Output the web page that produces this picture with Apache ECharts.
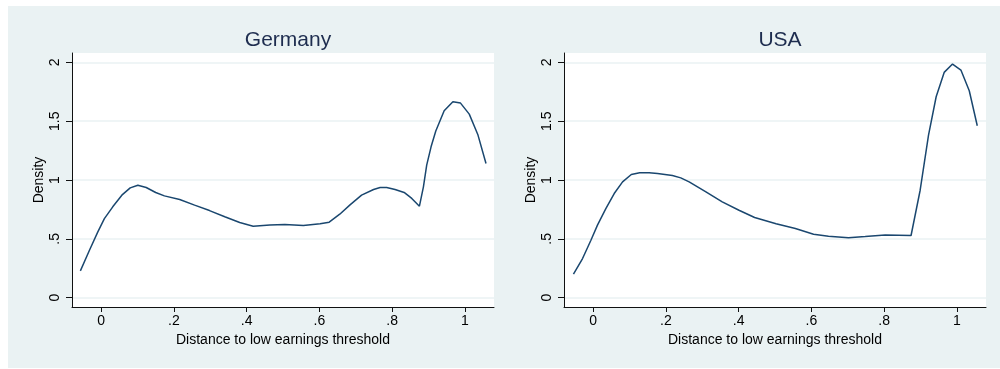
<!DOCTYPE html>
<html>
<head>
<meta charset="utf-8">
<script src="https://cdn.jsdelivr.net/npm/echarts@6/dist/echarts.min.js"></script>
<style>
html,body{margin:0;padding:0;background:#fff;}
#chart{width:1000px;height:369px;}
</style>
</head>
<body>
<div id="chart"></div>
<script>
// Panel titles
var panelTitles = ['Germany', 'USA'];
var xAxisTitle = 'Distance to low earnings threshold';
var yAxisTitle = 'Density';

// Tick values and labels
var xTickValues = [0, 0.2, 0.4, 0.6, 0.8, 1];
var xTickLabels = ['0', '.2', '.4', '.6', '.8', '1'];
var yTickValues = [0, 0.5, 1, 1.5, 2];
var yTickLabels = ['0', '.5', '1', '1.5', '2'];

// Germany kernel density (x, density)
var germanyX = [-0.057,-0.032,-0.009,0.009,0.032,0.057,0.080,0.101,0.124,0.150,0.174,0.216,0.257,0.298,0.340,0.381,0.418,0.464,0.505,0.556,0.602,0.627,0.656,0.685,0.716,0.749,0.767,0.785,0.808,0.833,0.854,0.875,0.886,0.895,0.907,0.920,0.943,0.967,0.988,1.012,1.036,1.058];
var germanyY = [0.227,0.403,0.559,0.672,0.772,0.871,0.933,0.956,0.936,0.894,0.865,0.834,0.786,0.740,0.687,0.638,0.607,0.618,0.621,0.613,0.627,0.641,0.709,0.791,0.871,0.919,0.936,0.936,0.919,0.894,0.843,0.777,0.942,1.126,1.282,1.416,1.589,1.665,1.654,1.560,1.382,1.140];

// USA kernel density (x, density)
var usaX = [-0.054,-0.029,-0.006,0.012,0.035,0.058,0.081,0.105,0.128,0.154,0.177,0.218,0.241,0.264,0.309,0.355,0.401,0.444,0.503,0.556,0.606,0.647,0.702,0.748,0.803,0.874,0.899,0.922,0.943,0.965,0.988,1.011,1.034,1.056];
var usaY = [0.199,0.332,0.488,0.616,0.757,0.885,0.984,1.047,1.061,1.061,1.055,1.038,1.018,0.984,0.902,0.814,0.743,0.681,0.628,0.587,0.539,0.522,0.508,0.519,0.533,0.528,0.913,1.382,1.708,1.915,1.986,1.935,1.759,1.461];

function pairs(xs, ys){ return xs.map(function(x,i){ return [x, ys[i]]; }); }

var grids = [
  {left:72, top:53, width:422, height:254},
  {left:564, top:53, width:422, height:254}
];

var fontFam = '"Liberation Sans", Arial, sans-serif';
var lineColor = '#1a476f';
var axisColor = '#111';
var gridColor = '#eaf2f3';

var xAxes = [], yAxes = [], series = [], titles = [];
grids.forEach(function(g, i){
  g.show = true; g.backgroundColor = '#ffffff'; g.borderWidth = 0; g.containLabel = false;
  xAxes.push({
    gridIndex: i, type: 'value', min: -0.08, max: 1.08,
    name: xAxisTitle, nameLocation: 'middle', nameGap: 21,
    nameTextStyle: {color: '#000', fontSize: 14, fontFamily: fontFam},
    axisLine: {show: true, onZero: false, lineStyle: {color: axisColor, width: 1}},
    axisTick: {show: true, length: 5, customValues: xTickValues, lineStyle: {color: axisColor}},
    axisLabel: {customValues: xTickValues, color: '#000', fontSize: 14, fontFamily: fontFam, margin: 7,
      formatter: function(v){ var k = xTickValues.indexOf(Math.round(v*10)/10); return k >= 0 ? xTickLabels[k] : ''; }},
    splitLine: {show: false}
  });
  yAxes.push({
    gridIndex: i, type: 'value', min: -0.08, max: 2.08,
    name: yAxisTitle, nameLocation: 'middle', nameGap: 26, nameRotate: 90,
    nameTextStyle: {color: '#000', fontSize: 14, fontFamily: fontFam},
    axisLine: {show: true, onZero: false, lineStyle: {color: axisColor, width: 1}},
    axisTick: {show: true, length: 6, customValues: yTickValues, lineStyle: {color: axisColor}},
    axisLabel: {customValues: yTickValues, rotate: 90, color: '#000', fontSize: 14, fontFamily: fontFam, margin: 10,
      formatter: function(v){ var k = yTickValues.indexOf(Math.round(v*10)/10); return k >= 0 ? yTickLabels[k] : ''; }},
    splitLine: {show: true, lineStyle: {color: gridColor, width: 1.5}}
  });
  titles.push({
    text: panelTitles[i], left: g.left + g.width/2, top: 25, textAlign: 'center',
    textStyle: {color: '#1e2d4f', fontSize: 21, fontWeight: 'normal', fontFamily: fontFam}
  });
});

series.push({type: 'line', xAxisIndex: 0, yAxisIndex: 0, data: pairs(germanyX, germanyY),
  showSymbol: false, symbol: 'none', lineStyle: {color: lineColor, width: 1.5}, animation: false});
series.push({type: 'line', xAxisIndex: 1, yAxisIndex: 1, data: pairs(usaX, usaY),
  showSymbol: false, symbol: 'none', lineStyle: {color: lineColor, width: 1.5}, animation: false});

var chart = echarts.init(document.getElementById('chart'), null, {renderer: 'canvas'});
chart.setOption({
  backgroundColor: '#ffffff',
  animation: false,
  graphic: [{type: 'rect', z: -10, silent: true, shape: {x: 8, y: 6, width: 992, height: 362}, style: {fill: '#eaf2f3'}}],
  title: titles,
  grid: grids,
  xAxis: xAxes,
  yAxis: yAxes,
  series: series
});
</script>
</body>
</html>
